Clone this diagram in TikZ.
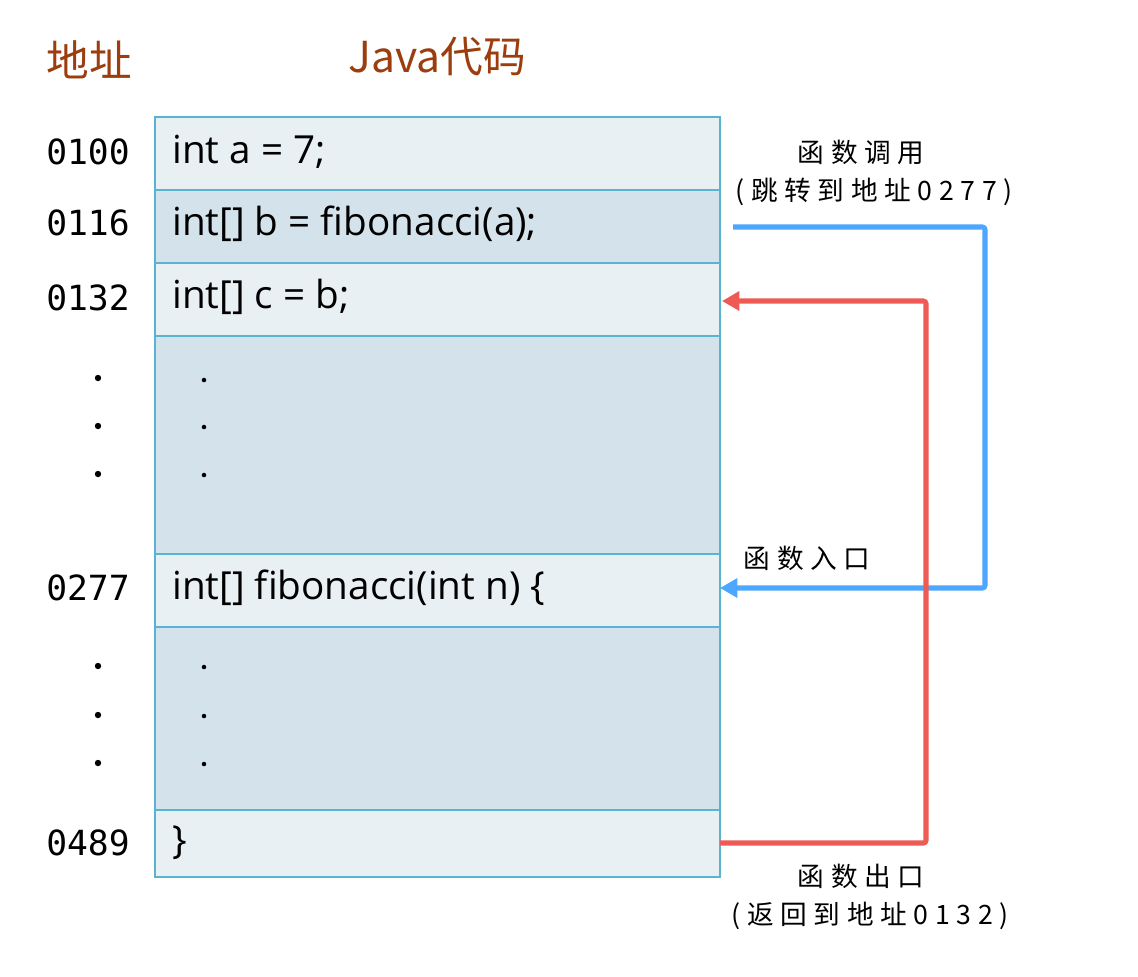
\documentclass[tikz,border=0pt]{standalone}
\usepackage{fontspec}
\setmainfont[Ligatures=NoCommon]{Open Sans}
\newfontfamily\cjk{Noto Sans CJK SC}
\newfontfamily\cjklab[LetterSpace=25]{Noto Sans CJK SC}
\newfontfamily\addrfont{DejaVu Sans Mono}
\usetikzlibrary{arrows.meta,calc}
\definecolor{titlebrown}{HTML}{9C3D0E}
\definecolor{rowborder}{HTML}{5AB4CF}
\definecolor{rowlight}{HTML}{E9F0F4}
\definecolor{rowdark}{HTML}{D4E3EB}
\definecolor{callblue}{HTML}{4DA6FF}
\definecolor{retred}{HTML}{EE5B55}
\tikzset{
  rowbox/.style={draw=rowborder, line width=2pt, anchor=north west, minimum width=423.75pt,
    inner sep=0pt, outer sep=0pt},
  lightrow/.style={rowbox, fill=rowlight},
  darkrow/.style={rowbox, fill=rowdark},
  codetext/.style={anchor=west, font=\fontsize{29}{32}\selectfont, inner sep=0pt},
  addr/.style={font=\addrfont\fontsize{26}{28}\selectfont, inner sep=0pt},
  title/.style={font=\cjk\fontsize{32}{36}\selectfont, text=titlebrown, inner sep=0pt},
  lab/.style={font=\cjklab\fontsize{20}{24}\selectfont, inner sep=0pt},
  dotmark/.style={circle, fill=black, inner sep=0pt},
  callarrow/.style={draw=callblue, line width=3.8pt, rounded corners=2pt,
    -{Triangle[length=13pt,width=14pt]}},
  retarrow/.style={draw=retred, line width=3.8pt, rounded corners=2pt,
    -{Triangle[length=13pt,width=14pt]}}
}
\begin{document}
\begin{tikzpicture}[x=0.75pt,y=-0.75pt]
\useasboundingbox[fill=white] (0,0) rectangle (1138,976);
% titles
\node[title] (t1) at (89,60) {地址};
\node[title] (t2) at (437,57) {Java代码};
% rows
\node[lightrow, minimum height=54.75pt] (r1) at (155,117) {};
\node[darkrow, minimum height=54.75pt] (r2) at (155,190) {};
\node[lightrow, minimum height=54.75pt] (r3) at (155,263) {};
\node[darkrow, minimum height=163.5pt] (r4) at (155,336) {};
\node[lightrow, minimum height=54.75pt] (r5) at (155,554) {};
\node[darkrow, minimum height=137.25pt] (r6) at (155,627) {};
\node[lightrow, minimum height=50.25pt] (r7) at (155,810) {};
% code text
\node[codetext] (c1) at (172,152) {int a = 7;};
\node[codetext] (c2) at (172,224) {int[] b = fibonacci(a);};
\node[codetext] (c3) at (172,297) {int[] c = b;};
\node[codetext] (c5) at (172,588) {int[] fibonacci(int n) \{};
\node[codetext] (c7) at (172,843) {\}};
% addresses
\node[addr] (a1) at (88,152) {0100};
\node[addr] (a2) at (88,223) {0116};
\node[addr] (a3) at (88,298) {0132};
\node[addr] (a5) at (88,588) {0277};
\node[addr] (a7) at (88,843) {0489};
% dots
\foreach \i/\y in {1/378,2/426,3/474,4/666,5/715,6/763}{
  \node[dotmark, minimum size=4.8pt] (ad\i) at (98,\y) {};
}
\foreach \i/\y in {1/380,2/427,3/475,4/667,5/716,6/764}{
  \node[dotmark, minimum size=3.4pt] (cd\i) at (204,\y) {};
}
% connectors
\coordinate (bs) at (733,227);
\draw[callarrow] (bs) -- (985,227) -- (985,588) -- (r5.east |- 0,588);
\draw[retarrow] (r7.east |- 0,843) -- (926,843) -- (926,301) -- ($(r3.east |- 0,301)+(2,0)$);
% labels
\node[lab] (l1) at (861,152) {函数调用};
\node[lab] (l2) at (874,192) {(跳转到地址0277)};
\node[lab] (l3) at (807,558) {函数入口};
\node[lab] (l4) at (861,876) {函数出口};
\node[lab] (l5) at (870,916) {(返回到地址0132)};
\end{tikzpicture}
\end{document}
